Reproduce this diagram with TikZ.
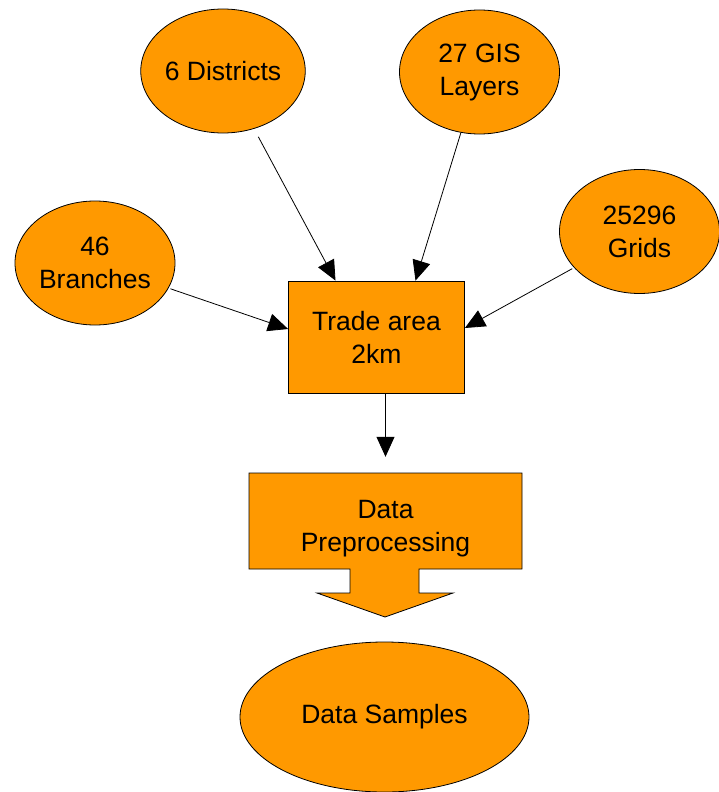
\documentclass[tikz,border=0pt]{standalone}
\usepackage{fontspec}
\setmainfont{Liberation Sans}
\usetikzlibrary{arrows.meta,shapes.geometric}
\definecolor{boxorange}{RGB}{255,153,0}

\begin{document}
\begin{tikzpicture}[x=1pt,y=-1pt,
    src/.style={ellipse,draw,fill=boxorange,line width=0.8pt,inner sep=0pt,
        minimum width=160pt,minimum height=124pt,align=center},
    box/.style={rectangle,draw,fill=boxorange,line width=0.8pt,
        minimum width=176pt,minimum height=112pt,align=center},
    arr/.style={-{Triangle[length=20pt,width=18pt]},line width=0.8pt},
    font=\fontsize{26.5}{33}\selectfont]
    \useasboundingbox (0,0) rectangle (719,792);

    % Inputs
    \node[src] (districts) at (223,71) {6 Districts};
    \node[src] (gis) at (479.5,72) {27 GIS\\Layers};
    \node[src] (branches) at (95,263) {46\\Branches};
    \node[src] (grids) at (639.5,231.5) {25296\\Grids};

    % Trade area
    \node[box] (trade) at (376.5,337) {Trade area\\2km};

    \draw[arr, shorten <=9pt] (districts) -- ([xshift=-41pt]trade.north);
    \draw[arr] (gis) -- ([xshift=39pt]trade.north);
    \draw[arr, shorten <=2pt] (branches) -- ([yshift=8pt]trade.west);
    \draw[arr, shorten <=2pt] (grids) -- ([yshift=9pt]trade.east);

    % Preprocessing block arrow
    \draw[fill=boxorange, line width=0.8pt] (249,473) -- (522,473) -- (522,569)
        -- (419,569) -- (419,593) -- (453,593) -- (385,617) -- (317,593)
        -- (350,593) -- (350,569) -- (249,569) -- cycle;
    \node[minimum width=273pt,minimum height=112pt,align=center] (prep) at (385.5,529) {Data\\Preprocessing};

    \draw[arr] (trade.south -| prep.north) -- ([yshift=16pt]prep.north);

    % Output
    \node[src, minimum width=289pt, minimum height=150pt] (samples) at (384.5,717) {Data Samples};
\end{tikzpicture}
\end{document}
